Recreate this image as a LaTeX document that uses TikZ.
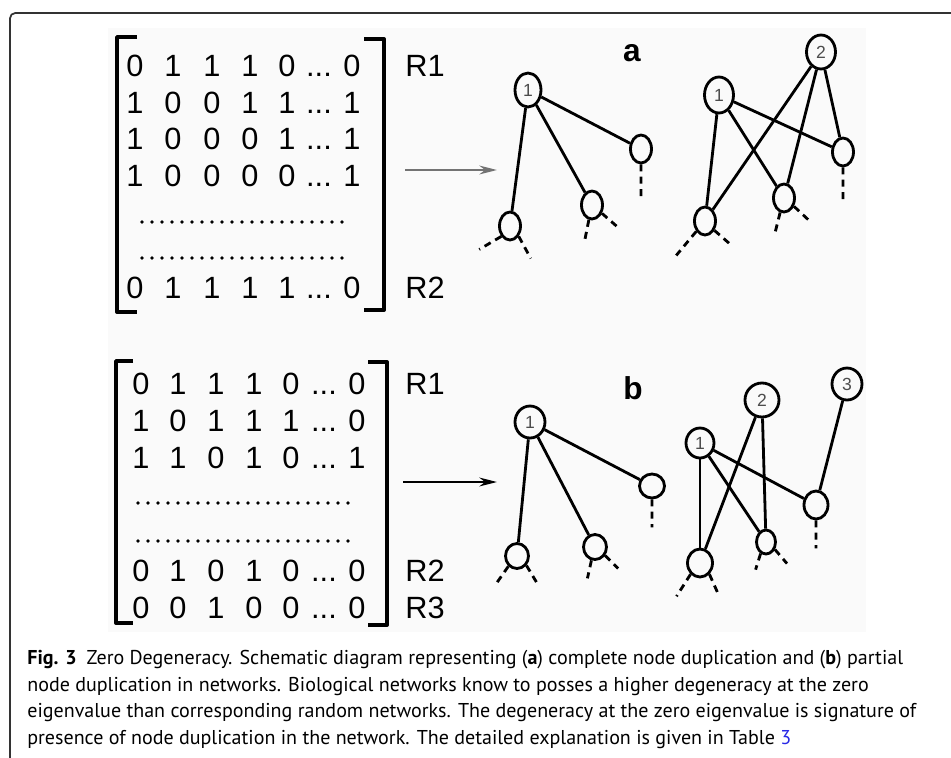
\documentclass[tikz,border=0pt]{standalone}
\usepackage{fontspec}
\setmainfont{Liberation Sans}
\newfontfamily\capfont{PT Sans}
\usetikzlibrary{arrows.meta,shapes.geometric}
\definecolor{linkblue}{RGB}{40,40,230}

\begin{document}
\begin{tikzpicture}[x=0.02cm,y=-0.02cm,line join=round,
    hub/.style={ellipse,draw,line width=1.6pt,inner sep=0pt,
                minimum width=0.52cm,minimum height=0.68cm,
                font=\fontsize{10}{10}\selectfont,text=black!70},
    leaf/.style={ellipse,draw,line width=1.6pt,inner sep=0pt,
                 minimum width=0.42cm,minimum height=0.56cm},
    link/.style={line width=1.6pt},
    stub/.style={line width=1.6pt,dash pattern=on 4pt off 3pt},
    brack/.style={line width=2.2pt},
    entry/.style={inner sep=0pt,text height=12.6pt,text depth=0pt,
                  font=\fontsize{17.5}{17.5}\selectfont},
    dotrow/.style={line width=2.2pt,line cap=round,dash pattern=on 0pt off 5.69pt},
    conv/.style={-{Stealth[length=10pt,width=5pt]},line width=1.4pt},
    panel/.style={inner sep=0pt,font=\fontsize{18}{18}\selectfont\bfseries},
    capline/.style={anchor=base west,inner sep=0pt,
                    font=\capfont\fontsize{11.4}{12}\selectfont}]

  \useasboundingbox (0,0) rectangle (951,758);
  \fill[black!2] (108,28) rectangle (866,632);
  \draw[black!80,line width=1pt,rounded corners=3pt] (951,13) -- (10,13) -- (10,758);

  % matrix a
  \draw[brack] (137,37) -- (117,37) -- (117,312) -- (137,312);
  \draw[brack] (364,39) -- (384,39) -- (384,310) -- (364,310);
  \foreach \y/\ea/\eb/\ec/\ed/\ee/\el in {65/0/1/1/1/0/0, 102/1/0/0/1/1/1,
      138/1/0/0/0/1/1, 175/1/0/0/0/0/1, 287/0/1/1/1/1/0} {
    \node[entry] (ma\y-1) at (135,\y) {\ea};
    \node[entry] (ma\y-2) at (173,\y) {\eb};
    \node[entry] (ma\y-3) at (212,\y) {\ec};
    \node[entry] (ma\y-4) at (250,\y) {\ed};
    \node[entry] (ma\y-5) at (287,\y) {\ee};
    \node[entry] (ma\y-6) at (319,\y) {...};
    \node[entry] (ma\y-7) at (352,\y) {\el};
  }
  \draw[dotrow] (142,222) -- (350,222);
  \draw[dotrow] (142,258) -- (350,258);
  \node[entry,anchor=west] (ra1) at (405,65) {R1};
  \node[entry,anchor=west] (ra2) at (405,287) {R2};

  % matrix b
  \draw[brack] (133,361) -- (116,361) -- (116,623) -- (133,623);
  \draw[brack] (368,362) -- (387,362) -- (387,625) -- (368,625);
  \foreach \y/\ea/\eb/\ec/\ed/\ee/\el in {383/0/1/1/1/0/0, 420/1/0/1/1/1/0,
      457/1/1/0/1/0/1, 570/0/1/0/1/0/0, 607/0/0/1/0/0/0} {
    \node[entry] (mb\y-1) at (141,\y) {\ea};
    \node[entry] (mb\y-2) at (178,\y) {\eb};
    \node[entry] (mb\y-3) at (216,\y) {\ec};
    \node[entry] (mb\y-4) at (254,\y) {\ed};
    \node[entry] (mb\y-5) at (291,\y) {\ee};
    \node[entry] (mb\y-6) at (324,\y) {...};
    \node[entry] (mb\y-7) at (357,\y) {\el};
  }
  \draw[dotrow] (138,503) -- (356,503);
  \draw[dotrow] (138,541) -- (356,541);
  \node[entry,anchor=west] (rb1) at (405,383) {R1};
  \node[entry,anchor=west] (rb2) at (405,570) {R2};
  \node[entry,anchor=west] (rb3) at (405,607) {R3};

  % arrows
  \coordinate (aFrom) at (405,170);
  \coordinate (aTo)   at (497,170);
  \coordinate (bFrom) at (403,482);
  \coordinate (bTo)   at (497,482);
  \draw[conv,black!55] (aFrom) -- (aTo);
  \draw[conv] (bFrom) -- (bTo);

  \node[panel] (la) at (632,53) {a};
  \node[panel] (lb) at (633,388) {b};

  % complete duplication
  \node[hub]  (a1)  at (528,90)  {1};
  \node[leaf] (a11) at (510,226) {};
  \node[leaf] (a12) at (592,205) {};
  \node[leaf] (a13) at (641,149) {};
  \path[link] (a1) edge (a11) edge (a12) edge (a13);
  \draw[stub] (a11.230) -- ++(-22,13) (a11.310) -- ++(12,22)
              (a12.258) -- ++(-4,20)  (a12.320) -- ++(16,14)
              (a13.south) -- ++(0,34);

  \node[hub,minimum width=0.58cm,minimum height=0.72cm] (a1d) at (719,95) {1};
  \node[hub,minimum width=0.58cm,minimum height=0.68cm] (a2)  at (821,52) {2};
  \node[leaf] (a21) at (705,221) {};
  \node[leaf] (a22) at (784,198) {};
  \node[leaf] (a23) at (843,152) {};
  \path[link] (a1d) edge (a21) edge (a22) edge (a23)
              (a2)  edge (a21) edge (a22) edge (a23);
  \draw[stub] (a21.230) -- ++(-20,24) (a21.315) -- ++(16,14)
              (a22.255) -- ++(-5,20)  (a22.320) -- ++(15,14)
              (a23.south) -- ++(0,34);

  % partial duplication
  \node[hub,minimum width=0.60cm,minimum height=0.64cm] (b1) at (530,422) {1};
  \node[leaf,minimum width=0.46cm,minimum height=0.50cm] (b11) at (517,556) {};
  \node[leaf,minimum width=0.46cm,minimum height=0.50cm] (b12) at (595,547) {};
  \node[leaf,minimum width=0.50cm,minimum height=0.48cm] (b13) at (652,486) {};
  \path[link] (b1) edge (b11) edge (b12) edge (b13);
  \draw[stub] (b11.230) -- ++(-14,20) (b11.315) -- ++(12,20)
              (b12.255) -- ++(-4,18)  (b12.320) -- ++(13,13)
              (b13.south) -- ++(0,28);

  \node[hub,minimum width=0.56cm,minimum height=0.60cm] (c1) at (700,443) {1};
  \node[hub,minimum width=0.68cm,minimum height=0.68cm] (c2) at (762,400) {2};
  \node[hub,minimum width=0.60cm,minimum height=0.64cm] (c3) at (847,384) {3};
  \node[leaf,minimum width=0.50cm,minimum height=0.56cm] (c11) at (700,563) {};
  \node[leaf,minimum width=0.38cm,minimum height=0.48cm] (c12) at (766,542) {};
  \node[leaf,minimum width=0.48cm,minimum height=0.56cm] (c13) at (816,505) {};
  \path[link] (c1) edge (c11) edge (c12) edge (c13)
              (c2) edge (c11) edge (c12)
              (c3) edge (c13);
  \draw[stub] (c11.230) -- ++(-14,22) (c11.310) -- ++(8,18)
              (c12.245) -- ++(-5,16)  (c12.320) -- ++(12,14)
              (c13.south) -- ++(0,28);

  % caption
  \node[capline] (cap1) at (27,664) {\textbf{Fig. 3}\enspace Zero Degeneracy. Schematic diagram representing (\textbf{a}) complete node duplication and (\textbf{b}) partial};
  \node[capline] (cap2) at (27,691) {node duplication in networks. Biological networks know to posses a higher degeneracy at the zero};
  \node[capline] (cap3) at (27,717) {eigenvalue than corresponding random networks. The degeneracy at the zero eigenvalue is signature of};
  \node[capline] (cap4) at (27,744) {presence of node duplication in the network. The detailed explanation is given in Table \textcolor{linkblue}{3}};
\end{tikzpicture}
\end{document}
